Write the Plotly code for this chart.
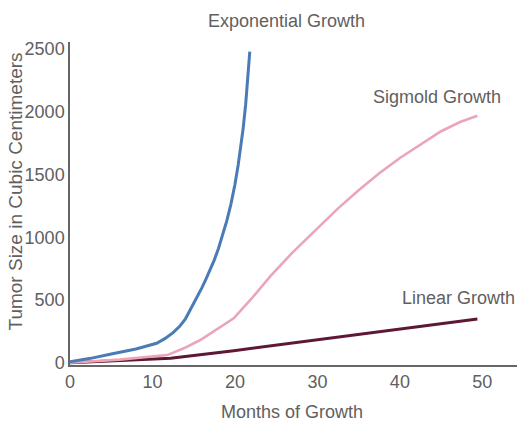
import plotly.graph_objects as go

# Data (months, cubic centimeters)
exp_months = [0, 2.5, 5, 8, 10.5, 11.5, 12.5, 13.3, 14, 14.5, 15, 15.5, 16, 16.5, 17, 17.5,
              18, 18.5, 19, 19.5, 20, 20.4, 20.7, 21, 21.3, 21.55, 21.8]
exp_size = [8, 35, 69, 110, 155, 192, 240, 290, 350, 410, 480, 535, 598, 668, 742, 820,
            910, 1010, 1128, 1260, 1420, 1580, 1710, 1870, 2060, 2250, 2480]

sig_months = [0, 6, 11.8, 13.8, 15.8, 17.8, 19.85, 22, 24.3, 27, 29.96, 32.5, 35, 37.5,
              40, 42.5, 45, 47.3, 49.4]
sig_size = [0, 25, 61, 115, 181, 265, 354, 510, 690, 880, 1071, 1230, 1375, 1510,
            1632, 1742, 1845, 1918, 1968]

lin_months = [0, 12.2, 19.85, 49.4]
lin_size = [0, 35, 96, 348]

x_ticks = [0, 10, 20, 30, 40, 50]
y_ticks = [0, 500, 1000, 1500, 2000, 2500]

FONT = "Liberation Sans"
TXT = "#606060"

W, H = 518, 423
L, R, T, B = 70, 1, 42, 58
pw, ph = W - L - R, H - T - B


def px_to_paper(px, py):
    return (px - L) / pw, 1 - (py - T) / ph


fig = go.Figure()
fig.add_trace(go.Scatter(x=lin_months, y=lin_size, mode="lines",
                         line=dict(color="#5f1735", width=3), name="Linear Growth"))
fig.add_trace(go.Scatter(x=sig_months, y=sig_size, mode="lines",
                         line=dict(color="#eaa5b9", width=2.6), name="Sigmold Growth"))
fig.add_trace(go.Scatter(x=exp_months, y=exp_size, mode="lines",
                         line=dict(color="#4a7bb7", width=3), name="Exponential Growth"))

labels = [
    ("Exponential Growth", 286, 21, 18, 0),
    ("Sigmold Growth", 437, 97, 18, 0),
    ("Linear Growth", 458, 298, 18, 0),
    ("Months of Growth", 291.5, 411.5, 18, 0),
    ("Tumor Size in Cubic Centimeters", 15, 191.5, 19, -90),
]
anns = []
for text, px, py, size, ang in labels:
    ax, ay = px_to_paper(px, py)
    anns.append(dict(text=text, xref="paper", yref="paper", x=ax, y=ay,
                     xanchor="center", yanchor="middle", showarrow=False, textangle=ang,
                     font=dict(family=FONT, size=size, color=TXT)))

fig.update_layout(
    width=W, height=H,
    margin=dict(l=L, r=R, t=T, b=B),
    paper_bgcolor="white", plot_bgcolor="white",
    showlegend=False,
    font=dict(family=FONT, size=18, color=TXT),
    xaxis=dict(range=[0, 54.2], tickvals=x_ticks, showgrid=False, zeroline=False,
               showline=True, linecolor="#666666", linewidth=1.5, ticks="",
               automargin=False, tickfont=dict(size=18, color=TXT)),
    yaxis=dict(range=[-18, 2556], tickvals=y_ticks, showgrid=False, zeroline=False,
               showline=True, linecolor="#666666", linewidth=1.5, ticks="",
               automargin=False, tickfont=dict(size=18, color=TXT)),
    annotations=anns,
)

fig.write_html("out.html", config={"displayModeBar": False},
               post_script="document.body.style.margin='0';document.body.style.overflow='hidden';")
